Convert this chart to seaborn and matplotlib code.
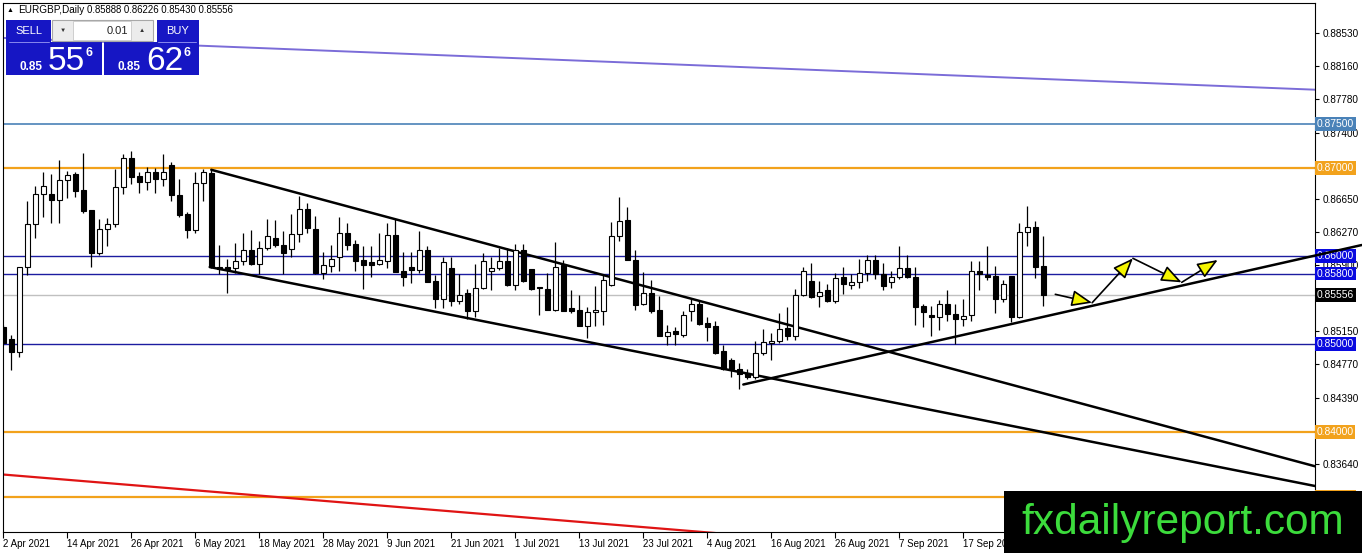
import matplotlib
matplotlib.use("Agg")
import matplotlib.pyplot as plt
import seaborn as sns
import pandas as pd
from matplotlib.patches import Rectangle, FancyArrowPatch
from matplotlib.lines import Line2D

sns.set_theme(style="white")
plt.rcParams["font.family"] = ["Liberation Sans", "DejaVu Sans"]

# EURGBP daily candles, bar 0 = 2 Apr 2021
opens = [
    0.8519, 0.8506, 0.8491, 0.8587, 0.8636, 0.8670, 0.8670, 0.8664, 0.8686, 0.8693,
    0.8675, 0.8652, 0.8603, 0.8631, 0.8636, 0.8678, 0.8711, 0.8691, 0.8684, 0.8695,
    0.8687, 0.8703, 0.8669, 0.8648, 0.8630, 0.8683, 0.8694, 0.8588, 0.8588, 0.8586,
    0.8594, 0.8607, 0.8591, 0.8609, 0.8621, 0.8613, 0.8608, 0.8625, 0.8653, 0.8631,
    0.8581, 0.8589, 0.8599, 0.8626, 0.8614, 0.8595, 0.8593, 0.8591, 0.8594, 0.8624,
    0.8583, 0.8587, 0.8584, 0.8607, 0.8572, 0.8551, 0.8586, 0.8549, 0.8558, 0.8537,
    0.8564, 0.8583, 0.8586, 0.8594, 0.8567, 0.8607, 0.8585, 0.8565, 0.8563, 0.8539,
    0.8590, 0.8541, 0.8539, 0.8521, 0.8536, 0.8537, 0.8567, 0.8623, 0.8641, 0.8596,
    0.8546, 0.8558, 0.8539, 0.8509, 0.8515, 0.8510, 0.8537, 0.8545, 0.8524, 0.8520,
    0.8492, 0.8482, 0.8472, 0.8467, 0.8463, 0.8490, 0.8501, 0.8504, 0.8518, 0.8509,
    0.8556, 0.8572, 0.8555, 0.8561, 0.8549, 0.8576, 0.8567, 0.8570, 0.8581, 0.8595,
    0.8580, 0.8571, 0.8576, 0.8586, 0.8576, 0.8543, 0.8533, 0.8531, 0.8545, 0.8534,
    0.8528, 0.8533, 0.8583, 0.8578, 0.8577, 0.8551, 0.8577, 0.8531, 0.8627, 0.8633,
    0.85888,
]
highs = [
    0.8522, 0.8510, 0.8588, 0.8662, 0.8680, 0.8695, 0.8693, 0.8709, 0.8697, 0.8695,
    0.8717, 0.8652, 0.8642, 0.8643, 0.8699, 0.8716, 0.8719, 0.8695, 0.8701, 0.8700,
    0.8716, 0.8707, 0.8688, 0.8650, 0.8695, 0.8699, 0.8699, 0.8613, 0.8597, 0.8615,
    0.8626, 0.8630, 0.8617, 0.8642, 0.8641, 0.8628, 0.8648, 0.8668, 0.8660, 0.8645,
    0.8605, 0.8613, 0.8644, 0.8637, 0.8618, 0.8611, 0.8611, 0.8626, 0.8637, 0.8642,
    0.8605, 0.8605, 0.8628, 0.8611, 0.8578, 0.8599, 0.8599, 0.8580, 0.8563, 0.8591,
    0.8603, 0.8599, 0.8609, 0.8609, 0.8614, 0.8614, 0.8585, 0.8565, 0.8581, 0.8616,
    0.8595, 0.8561, 0.8556, 0.8542, 0.8566, 0.8578, 0.8639, 0.8667, 0.8656, 0.8607,
    0.8582, 0.8573, 0.8555, 0.8522, 0.8519, 0.8537, 0.8552, 0.8550, 0.8531, 0.8526,
    0.8499, 0.8484, 0.8479, 0.8472, 0.8503, 0.8517, 0.8513, 0.8535, 0.8542, 0.8563,
    0.8588, 0.8592, 0.8572, 0.8568, 0.8581, 0.8587, 0.8580, 0.8597, 0.8601, 0.8601,
    0.8592, 0.8583, 0.8611, 0.8601, 0.8588, 0.8546, 0.8543, 0.8550, 0.8561, 0.8546,
    0.8551, 0.8594, 0.8594, 0.8611, 0.8589, 0.8573, 0.8577, 0.8638, 0.8657, 0.8640,
    0.86226,
]
lows = [
    0.8499, 0.8470, 0.8485, 0.8579, 0.8620, 0.8644, 0.8638, 0.8638, 0.8666, 0.8667,
    0.8649, 0.8587, 0.8601, 0.8611, 0.8633, 0.8670, 0.8682, 0.8672, 0.8675, 0.8672,
    0.8680, 0.8663, 0.8644, 0.8621, 0.8626, 0.8663, 0.8586, 0.8580, 0.8558, 0.8581,
    0.8590, 0.8590, 0.8580, 0.8607, 0.8610, 0.8580, 0.8599, 0.8616, 0.8626, 0.8580,
    0.8574, 0.8582, 0.8583, 0.8607, 0.8583, 0.8563, 0.8576, 0.8590, 0.8586, 0.8582,
    0.8566, 0.8569, 0.8581, 0.8571, 0.8541, 0.8541, 0.8543, 0.8545, 0.8529, 0.8531,
    0.8563, 0.8561, 0.8584, 0.8566, 0.8561, 0.8570, 0.8561, 0.8533, 0.8539, 0.8538,
    0.8537, 0.8535, 0.8521, 0.8507, 0.8520, 0.8522, 0.8566, 0.8617, 0.8595, 0.8539,
    0.8544, 0.8535, 0.8509, 0.8499, 0.8499, 0.8508, 0.8526, 0.8522, 0.8503, 0.8489,
    0.8470, 0.8463, 0.8449, 0.8460, 0.8460, 0.8488, 0.8482, 0.8501, 0.8505, 0.8505,
    0.8555, 0.8552, 0.8542, 0.8548, 0.8547, 0.8557, 0.8562, 0.8564, 0.8572, 0.8574,
    0.8561, 0.8564, 0.8574, 0.8575, 0.8522, 0.8519, 0.8509, 0.8516, 0.8526, 0.8500,
    0.8520, 0.8526, 0.8561, 0.8573, 0.8535, 0.8548, 0.8525, 0.8530, 0.8611, 0.8575,
    0.85430,
]
closes = [
    0.8501, 0.8491, 0.8588, 0.8636, 0.8670, 0.8680, 0.8664, 0.8686, 0.8692, 0.8674,
    0.8651, 0.8603, 0.8631, 0.8636, 0.8678, 0.8711, 0.8690, 0.8684, 0.8695, 0.8687,
    0.8696, 0.8669, 0.8647, 0.8630, 0.8683, 0.8695, 0.8587, 0.8585, 0.8585, 0.8594,
    0.8607, 0.8591, 0.8609, 0.8623, 0.8613, 0.8603, 0.8625, 0.8653, 0.8632, 0.8581,
    0.8590, 0.8597, 0.8626, 0.8613, 0.8594, 0.8590, 0.8590, 0.8595, 0.8624, 0.8582,
    0.8576, 0.8584, 0.8607, 0.8571, 0.8551, 0.8593, 0.8549, 0.8556, 0.8537, 0.8564,
    0.8594, 0.8586, 0.8594, 0.8567, 0.8607, 0.8572, 0.8563, 0.8564, 0.8539, 0.8587,
    0.8537, 0.8538, 0.8521, 0.8536, 0.8539, 0.8573, 0.8623, 0.8640, 0.8595, 0.8544,
    0.8558, 0.8538, 0.8509, 0.8514, 0.8511, 0.8533, 0.8545, 0.8523, 0.8519, 0.8490,
    0.8472, 0.8472, 0.8466, 0.8463, 0.8490, 0.8502, 0.8504, 0.8517, 0.8509, 0.8556,
    0.8583, 0.8553, 0.8559, 0.8549, 0.8575, 0.8568, 0.8570, 0.8581, 0.8595, 0.8580,
    0.8566, 0.8576, 0.8586, 0.8576, 0.8542, 0.8536, 0.8531, 0.8545, 0.8534, 0.8528,
    0.8532, 0.8583, 0.8580, 0.8576, 0.8551, 0.8568, 0.8531, 0.8627, 0.8633, 0.8588,
    0.85556,
]

date_ticks = list(range(0, 121, 8))
date_labels = ["2 Apr 2021", "14 Apr 2021", "26 Apr 2021", "6 May 2021",
               "18 May 2021", "28 May 2021", "9 Jun 2021", "21 Jun 2021",
               "1 Jul 2021", "13 Jul 2021", "23 Jul 2021", "4 Aug 2021",
               "16 Aug 2021", "26 Aug 2021", "7 Sep 2021", "17 Sep 2021"]
price_ticks = [0.88530, 0.88160, 0.87780, 0.87400, 0.86650, 0.86270,
               0.85900, 0.85150, 0.84770, 0.84390, 0.83640]

# horizontal levels drawn on the chart
level_prices = [0.87500, 0.87000, 0.86000, 0.85800, 0.85000, 0.84000, 0.83265, 0.85556]
level_colors = ["#4a82b8", "#f2a21c", "#1c1ca0", "#1c1ca0", "#1c1ca0", "#f2a21c", "#f2a21c", "#c0c0c0"]
level_box = ["#4a82b8", "#f2a21c", "#0a0ae0", "#0a0ae0", "#0a0ae0", "#f2a21c", "#f2a21c", "black"]
level_lw = [1.2, 1.6, 1.0, 1.0, 1.0, 1.6, 1.6, 1.0]

# drawn trend lines (bar index, price)
upper_bars, upper_prices = [26, 164], [0.8698, 0.8361]
lower_bars, lower_prices = [25.8, 164], [0.85875, 0.83386]
support_bars, support_prices = [92.5, 169.8], [0.8454, 0.86125]
purple_bars, purple_prices = [-0.4, 164], [0.8848, 0.8789]
red_bars, red_prices = [-0.4, 100], [0.8352, 0.8277]

# projected path (yellow arrows)
path_bars = [131.5, 136.1, 141.2, 147.3, 151.8]
path_prices = [0.85565, 0.85469, 0.85974, 0.85701, 0.85955]

W, H = 1362, 553
fig = plt.figure(figsize=(W / 100, H / 100), dpi=100)
fig.patch.set_facecolor("white")
ax = fig.add_axes([2.5 / W, 1 - 532 / H, (1315 - 2.5) / W, (532 - 2.5) / H])
ax.set_facecolor("white")

candles = pd.DataFrame({"open": opens, "high": highs, "low": lows, "close": closes})
candles["bar"] = range(len(candles))
candles["bottom"] = candles[["open", "close"]].min(axis=1)
candles["height"] = (candles["close"] - candles["open"]).abs().clip(lower=0.00002)
candles["fill"] = ["white" if c >= o else "black" for o, c in zip(opens, closes)]

# levels
for p, c, lw in zip(level_prices, level_colors, level_lw):
    ax.axhline(p, color=c, lw=lw, zorder=1)

# trend lines
for bx, py, col, lw in [(purple_bars, purple_prices, "#7b6cd8", 1.4),
                        (red_bars, red_prices, "#e01414", 1.6),
                        (upper_bars, upper_prices, "black", 1.8),
                        (lower_bars, lower_prices, "black", 1.8)]:
    sns.lineplot(x=bx, y=py, ax=ax, color=col, lw=lw, zorder=2)
sns.lineplot(x=support_bars, y=support_prices, ax=ax, color="black", lw=1.8,
             zorder=6, clip_on=False)

# candles
ax.vlines(candles["bar"], candles["low"], candles["high"], color="black", lw=0.9, zorder=3)
ax.bar(candles["bar"], candles["height"], bottom=candles["bottom"], width=0.56,
       color=candles["fill"], edgecolor="black", linewidth=0.8, zorder=4)

# arrows
for i in range(len(path_bars) - 1):
    ax.add_patch(FancyArrowPatch((path_bars[i], path_prices[i]),
                                 (path_bars[i + 1], path_prices[i + 1]),
                                 arrowstyle="-|>,head_length=1.0,head_width=0.4",
                                 mutation_scale=12.5, fc="#f4f400", ec="black",
                                 lw=1.2, shrinkA=0, shrinkB=0, zorder=5))

ax.set_xlim(-0.1, 163.96)
ax.set_ylim(0.82864, 0.88881)
ax.set_xlabel("")
ax.set_ylabel("")
ax.yaxis.tick_right()
ax.set_yticks(price_ticks, [f"{p:.5f}" for p in price_ticks])
ax.set_xticks(date_ticks, date_labels, ha="left")
ax.tick_params(axis="y", right=True, left=False, length=3, width=0.8, pad=2.5,
               labelsize=7.2, colors="black", direction="out")
ax.tick_params(axis="x", bottom=True, length=4, width=0.8, pad=1,
               labelsize=7, colors="black", direction="out")
for s in ax.spines.values():
    s.set_color("black")
    s.set_linewidth(0.8)
ax.grid(False)

# price labels on the axis
for p, bc in zip(level_prices, level_box):
    ax.text(1.0012, p, f"{p:.5f}", transform=ax.get_yaxis_transform(), ha="left",
            va="center", fontsize=7.4, color="white", zorder=4,
            bbox=dict(boxstyle="square,pad=0.17", fc=bc, ec="none"))


def px_rect(x0, y0, x1, y1, **kw):
    fig.add_artist(Rectangle((x0 / W, 1 - y1 / H), (x1 - x0) / W, (y1 - y0) / H,
                             transform=fig.transFigure, **kw))


def px_text(x, y, s, **kw):
    fig.text(x / W, 1 - y / H, s, **kw)


# header
px_text(7, 10, "\u25b2", fontsize=5, va="center", ha="left", color="black")
px_text(18, 10, "EURGBP,Daily", fontsize=7.2, va="center", ha="left", color="black")
px_text(87, 10, "0.85888 0.86226 0.85430 0.85556", fontsize=6.9, va="center",
        ha="left", color="black")

# one-click trading panel
blue = "#1616c4"
px_rect(6, 20, 51, 42, fc=blue, ec="none", zorder=3)
px_rect(157, 20, 199, 42, fc=blue, ec="none", zorder=3)
px_rect(6, 42, 102, 75, fc=blue, ec="none", zorder=3)
px_rect(104, 42, 199, 75, fc=blue, ec="none", zorder=3)
fig.add_artist(Line2D([9 / W, 49 / W], [1 - 41.5 / H] * 2, color="#8888ee", lw=0.7, zorder=4))
fig.add_artist(Line2D([158 / W, 196 / W], [1 - 41.5 / H] * 2, color="#8888ee", lw=0.7, zorder=4))
px_text(28.5, 31, "SELL", fontsize=8, color="white", ha="center", va="center", zorder=5)
px_text(178, 31, "BUY", fontsize=8, color="white", ha="center", va="center", zorder=5)
px_rect(52, 20, 153, 41, fc="#ececec", ec="#a8a8a8", lw=0.8, zorder=3)
px_rect(73, 21, 131, 40, fc="white", ec="#c8c8c8", lw=0.6, zorder=4)
px_text(63, 30, "\u25bc", fontsize=4.5, color="#333333", ha="center", va="center", zorder=5)
px_text(142, 30, "\u25b2", fontsize=4.5, color="#333333", ha="center", va="center", zorder=5)
px_text(128, 30.5, "0.01", fontsize=8, color="#222222", ha="right", va="center", zorder=5)
for x0, big in [(20, "55"), (118, "62")]:
    px_text(x0, 70, "0.85", fontsize=8.5, fontweight="bold", color="white",
            ha="left", va="baseline", zorder=5)
    px_text(x0 + 28, 70.5, big, fontsize=24, color="white", ha="left",
            va="baseline", zorder=5)
    px_text(x0 + 66, 56, "6", fontsize=9, fontweight="bold", color="white",
            ha="left", va="baseline", zorder=5)

# watermark box
px_rect(1004, 491, 1362, 553, fc="black", ec="none", zorder=7)
px_text(1021, 534, "fxdailyreport.com", fontsize=30.5, color="#3cdc3c",
        ha="left", va="baseline", zorder=8)

fig.savefig("out.png", dpi=100, facecolor="white")
